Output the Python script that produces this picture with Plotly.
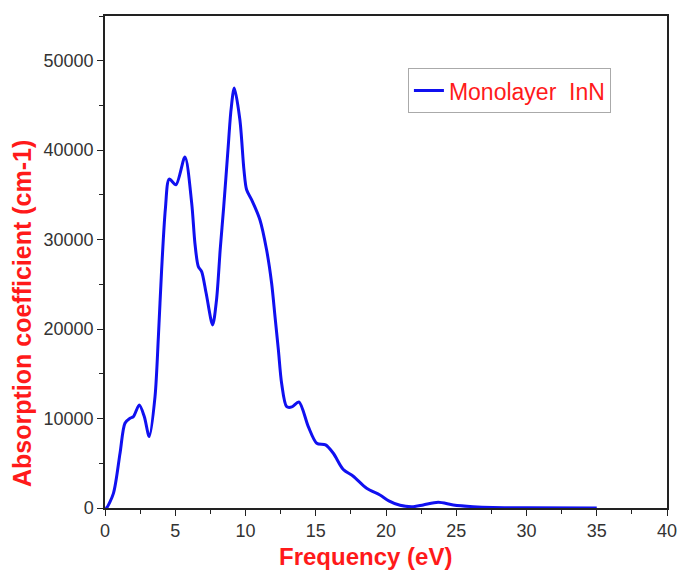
import plotly.graph_objects as go

# Absorption spectrum of monolayer InN
energy_ev = [0.0, 0.1, 0.6, 1.07, 1.42, 1.78, 2.02, 2.44, 2.8, 3.15, 3.56, 3.8, 4.03,
             4.3, 4.57, 5.05, 5.69, 6.17, 6.4, 6.64, 6.88, 7.2, 7.66, 7.94, 8.2,
             8.45, 8.75, 8.97, 9.2, 9.6, 9.89, 10.08, 10.44, 11.03, 11.5, 11.86,
             12.1, 12.34, 12.57, 12.93, 13.3, 13.8, 14.47, 15.07, 15.7, 16.25,
             16.96, 17.67, 18.62, 19.57, 20.2, 21.0, 21.94, 22.65, 23.72, 24.79,
             26.2, 27.6, 30.0, 35.0]
absorption = [0, 0, 1640, 6120, 9470, 10030, 10210, 11520, 10200, 7980, 12450, 19160, 26620,
              33500, 36770, 36130, 39230, 34080, 29600, 27000, 26430, 24000, 20470, 23300, 28900,
              33700, 40000, 44500, 46950, 43400, 37800, 35570, 34450, 32200, 28860, 25130,
              21400, 17670, 13950, 11330, 11300, 11850, 9100, 7240, 7050, 6120,
              4300, 3550, 2200, 1450, 800, 300, 150, 340, 640, 340,
              150, 60, 20, 0]

x_ticks = [0, 5, 10, 15, 20, 25, 30, 35, 40]
y_ticks = [0, 10000, 20000, 30000, 40000, 50000]
y_tick_text = [str(v) for v in y_ticks]

x_title = "Frequency (eV)"
y_title = "Absorption coefficient (cm-1)"

fig = go.Figure()
fig.add_trace(go.Scatter(
    x=energy_ev, y=absorption, mode="lines",
    name="Monolayer  InN",
    line=dict(color="#1010f0", width=3, shape="spline", smoothing=0.8),
))

font_family = "Liberation Sans, Arial, sans-serif"
title_red = "#ff1a1a"
axis_common = dict(
    showline=True, linecolor="#222", linewidth=1.5, mirror=True,
    ticks="outside", ticklen=6, tickwidth=1.3, tickcolor="#222",
    showgrid=False, zeroline=False, automargin=False,
    tickfont=dict(family=font_family, size=18, color="#333"),
)

fig.update_layout(
    width=681, height=572,
    margin=dict(l=105, r=14, t=16, b=64),
    paper_bgcolor="white", plot_bgcolor="white",
    showlegend=True,
    legend=dict(
        x=0.539, y=0.894, xanchor="left", yanchor="top",
        bordercolor="#aaa", borderwidth=1, bgcolor="white",
        font=dict(family=font_family, size=23, color=title_red),
    ),
)
fig.update_xaxes(
    range=[0, 40], tickvals=x_ticks,
    minor=dict(dtick=2.5, ticks="outside", ticklen=4, tickcolor="#222", tick0=0),
    **axis_common,
)
fig.update_yaxes(
    range=[0, 55000], tickvals=y_ticks, ticktext=y_tick_text,
    minor=dict(dtick=5000, ticks="outside", ticklen=4, tickcolor="#222", tick0=0),
    **axis_common,
)

# Axis titles placed as annotations so they can sit off-centre
fig.add_annotation(
    text=f"<b>{x_title}</b>", xref="paper", yref="paper",
    x=0.464, y=-0.0976, xanchor="center", yanchor="middle", showarrow=False,
    font=dict(family=font_family, size=24, color=title_red),
)
fig.add_annotation(
    text=f"<b>{y_title}</b>", xref="paper", yref="paper", textangle=-90,
    x=-0.148, y=0.396, xanchor="center", yanchor="middle", showarrow=False,
    font=dict(family=font_family, size=25, color=title_red),
)

fig.write_html("out.html")
